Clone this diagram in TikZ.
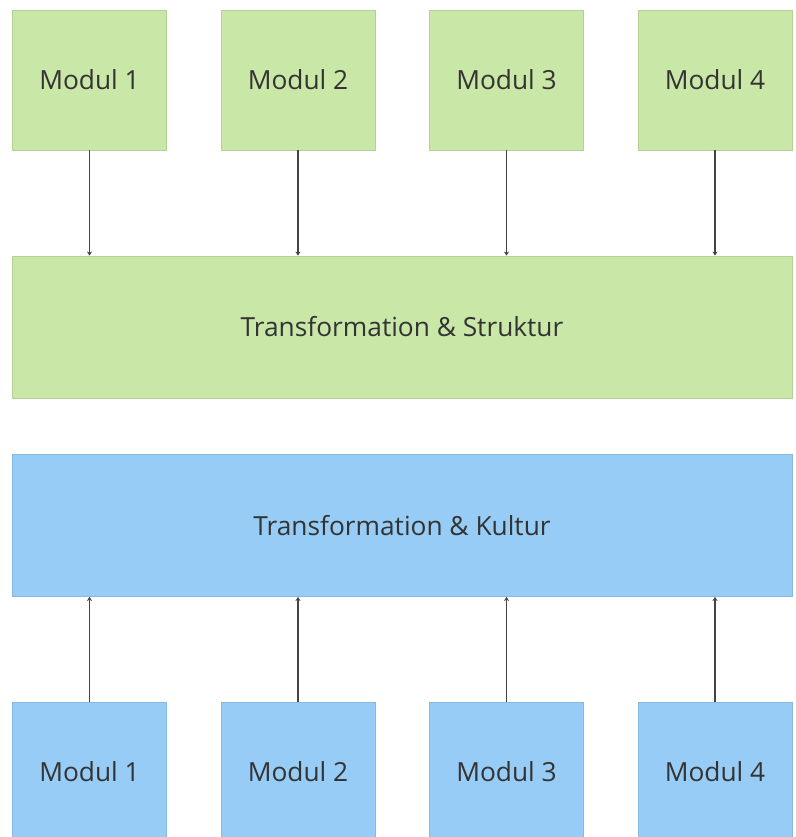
\documentclass[tikz,border=0pt]{standalone}
\usepackage{fontspec}
\setmainfont{Open Sans}
\usetikzlibrary{arrows.meta}
\definecolor{gfill}{HTML}{C9E7A7}
\definecolor{gdraw}{HTML}{B3D195}
\definecolor{bfill}{HTML}{96CCF5}
\definecolor{bdraw}{HTML}{86B8E0}
\definecolor{txt}{HTML}{333333}
\definecolor{arr}{HTML}{444444}
\tikzset{
  box/.style={draw, line width=0.8pt, inner sep=0pt, text=txt, font=\fontsize{26.3}{31}\selectfont},
  gbox/.style={box, fill=gfill, draw=gdraw},
  bbox/.style={box, fill=bfill, draw=bdraw},
  modbox/.style={minimum width=154pt, minimum height=140pt},
  widebox/.style={minimum width=780pt, minimum height=142pt},
  conn/.style={draw=arr, line width=1.1pt, -{Stealth[length=4pt,width=5pt]}}
}
\begin{document}
\begin{tikzpicture}[x=1pt,y=-1pt]
\clip (0,0) rectangle (795,837);
\fill[white] (0,0) rectangle (795,837);
\node[gbox,modbox] (g1) at (89.5,80) {Modul 1};
\node[gbox,modbox] (g2) at (298,80) {Modul 2};
\node[gbox,modbox] (g3) at (506.5,80) {Modul 3};
\node[gbox,modbox] (g4) at (715,80) {Modul 4};
\node[gbox,widebox] (gs) at (402,327) {Transformation \& Struktur};
\node[bbox,widebox] (bk) at (402,525.5) {Transformation \& Kultur};
\node[bbox,modbox] (b1) at (89.5,772) {Modul 1};
\node[bbox,modbox] (b2) at (298,772) {Modul 2};
\node[bbox,modbox] (b3) at (506.5,772) {Modul 3};
\node[bbox,modbox] (b4) at (715,772) {Modul 4};
\foreach \i in {1,2,3,4} {
  \draw[conn] (g\i.south) -- (g\i.south |- gs.north);
  \draw[conn] (b\i.north) -- (b\i.north |- bk.south);
}
\end{tikzpicture}
\end{document}
